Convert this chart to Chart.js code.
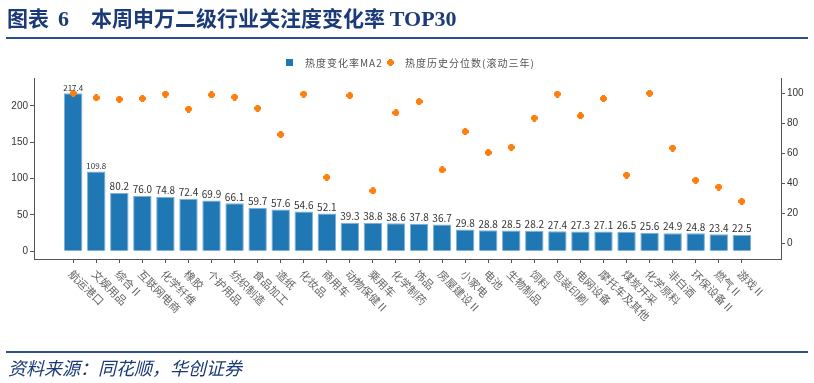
<!DOCTYPE html>
<html><head><meta charset="utf-8">
<script src="https://cdn.jsdelivr.net/npm/chart.js@4/dist/chart.umd.min.js"></script>
<style>
html,body{margin:0;padding:0;background:#fff;}
#wrap{position:relative;width:814px;height:383px;overflow:hidden;background:#fff;}
#c{position:absolute;left:0;top:0;}
.title{position:absolute;top:4px;font-family:"Noto Sans CJK SC";font-weight:bold;font-size:21px;color:#1B3A78;white-space:pre;line-height:26px;}
.title .en{font-family:"Liberation Serif";font-size:22px;}
.rule{position:absolute;left:6px;width:802px;height:2px;background:#2B4F8F;}
.leg{position:absolute;top:55px;font-family:"Noto Sans CJK SC";font-size:10px;color:#555;line-height:15px;letter-spacing:1px;white-space:pre;}
.sq{position:absolute;left:286px;top:59px;width:7px;height:7px;background:#1F77B4;}
.src{position:absolute;left:8px;top:356px;font-family:"Noto Sans CJK SC";font-style:italic;font-size:18px;color:#1B3A78;white-space:pre;line-height:22px;}
</style></head>
<body>
<div id="wrap">
  <canvas id="c" width="814" height="383"></canvas>
  <div class="title" style="left:7px">图表</div>
  <div class="title" style="left:58px"><span class="en">6</span></div>
  <div class="title" style="left:91px">本周申万二级行业关注度变化率 <span class="en">TOP30</span></div>
  <div class="rule" style="top:37px"></div>
  <div class="sq"></div>
  <div class="leg" style="left:305px">热度变化率MA2</div>
  <canvas id="legpt" width="7" height="7" style="position:absolute;left:387px;top:59px"></canvas>
  <div class="leg" style="left:405px">热度历史分位数(滚动三年)</div>
  <div class="rule" style="top:351px"></div>
  <div class="src">资料来源：同花顺，华创证券</div>
</div>
<script>
const categories = ["航运港口","文娱用品","综合Ⅱ","互联网电商","化学纤维","橡胶","个护用品","纺织制造","食品加工","造纸","化妆品","商用车","动物保健Ⅱ","乘用车","化学制药","饰品","房屋建设Ⅱ","小家电","电池","生物制品","饲料","包装印刷","电网设备","摩托车及其他","煤炭开采","化学原料","非白酒","环保设备Ⅱ","燃气Ⅱ","游戏Ⅱ"];
const changeMA2 = [217.4,109.8,80.2,76.0,74.8,72.4,69.9,66.1,59.7,57.6,54.6,52.1,39.3,38.8,38.6,37.8,36.7,29.8,28.8,28.5,28.2,27.4,27.3,27.1,26.5,25.6,24.9,24.8,23.4,22.5];
const percentile3Y = [100,97,96,96.5,99.5,89.5,99,97.5,90,72.5,99.5,44,98.5,35,87,94.5,49,74.5,60.5,64,83.5,99.5,85,96.5,45.5,100,63.5,42,37.5,28];
const leftTicks = [0,50,100,150,200];
const rightTicks = [0,20,40,60,80,100];

function plusMarker(cv){
  const g = cv.getContext('2d');
  g.fillStyle = '#FF7F0E';
  g.fillRect(2,0,3,7);
  g.fillRect(0,2,7,3);
  g.fillRect(1,1,5,5);
  return cv;
}
const marker = document.createElement('canvas');
marker.width = 7; marker.height = 7; plusMarker(marker);
plusMarker(document.getElementById('legpt'));

const labelPlugin = {
  id: 'labels',
  afterDatasetsDraw(chart){
    const ctx = chart.ctx;
    const meta = chart.getDatasetMeta(0);
    ctx.save();
    ctx.fillStyle = '#333';
    ctx.textAlign = 'center';
    ctx.textBaseline = 'bottom';
    meta.data.forEach((el, i) => {
      const t = changeMA2[i].toFixed(1);
      ctx.font = (t.length >= 5 ? '8px' : '10px') + ' "Noto Sans CJK SC"';
      ctx.fillText(t, el.x, el.y - 1.5);
    });
    const xs = chart.scales.x;
    ctx.fillStyle = '#666';
    ctx.font = '11px "Noto Sans CJK SC"';
    ctx.textAlign = 'left';
    ctx.textBaseline = 'middle';
    categories.forEach((c, i) => {
      const x = xs.getPixelForValue(i);
      ctx.save();
      ctx.translate(x - 2.4, 272);
      ctx.rotate(Math.PI / 4);
      ctx.fillText(c, 0, 0);
      ctx.restore();
    });
    ctx.restore();
  }
};

const axisCol = '#555';
new Chart(document.getElementById('c'), {
  data: {
    datasets: [
      {
        type: 'bar',
        label: '热度变化率MA2',
        data: changeMA2.map((v, i) => ({x: i, y: v})),
        backgroundColor: '#1F77B4',
        borderColor: '#7FB0DA',
        borderWidth: 1,
        barPercentage: 0.8,
        categoryPercentage: 1.0,
        yAxisID: 'y',
        order: 2
      },
      {
        type: 'line',
        label: '热度历史分位数(滚动三年)',
        data: percentile3Y.map((v, i) => ({x: i, y: v})),
        showLine: false,
        pointStyle: marker,
        pointRadius: 4,
        pointHoverRadius: 4,
        borderColor: '#FF7F0E',
        backgroundColor: '#FF7F0E',
        yAxisID: 'y2',
        order: 1
      }
    ]
  },
  options: {
    responsive: false,
    animation: false,
    devicePixelRatio: 1,
    layout: {padding: {left: 0, right: 0, top: 78, bottom: 120}},
    plugins: {legend: {display: false}, tooltip: {enabled: false}},
    scales: {
      x: {
        type: 'linear',
        offset: false,
        min: -1.7, max: 30.7,
        afterBuildTicks: s => { s.ticks = categories.map((_, i) => ({value: i})); },
        afterFit: s => { s.height = 4; },
        ticks: {display: false},
        grid: {offset: false, drawOnChartArea: false, drawTicks: true, tickLength: 4, color: axisCol},
        border: {display: true, color: axisCol, width: 1}
      },
      y: {
        position: 'left',
        min: -10.6, max: 238.3,
        afterBuildTicks: s => { s.ticks = leftTicks.map(v => ({value: v})); },
        afterFit: s => { s.width = 34; },
        ticks: {color: '#333', font: {family: 'Liberation Sans', size: 10}, padding: 2},
        grid: {drawOnChartArea: false, drawTicks: true, tickLength: 4, color: axisCol},
        border: {display: true, color: axisCol, width: 1}
      },
      y2: {
        position: 'right',
        min: -10.5, max: 110.2,
        afterBuildTicks: s => { s.ticks = rightTicks.map(v => ({value: v})); },
        afterFit: s => { s.width = 33; },
        ticks: {color: '#333', font: {family: 'Liberation Sans', size: 10}, padding: 2},
        grid: {drawOnChartArea: false, drawTicks: true, tickLength: 4, color: axisCol},
        border: {display: true, color: axisCol, width: 1}
      }
    }
  },
  plugins: [labelPlugin]
});
</script>
</body></html>
